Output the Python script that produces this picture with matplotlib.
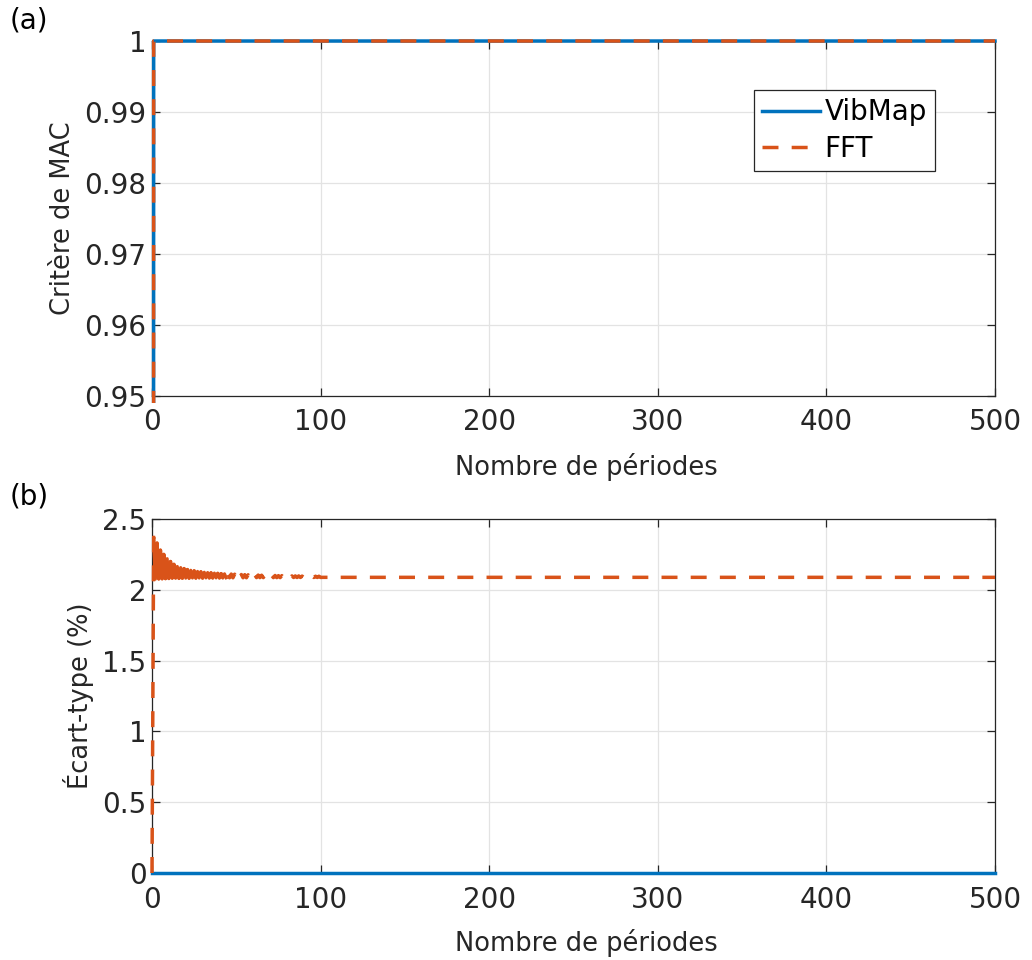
import numpy as np
import matplotlib
matplotlib.use("Agg")
import matplotlib.pyplot as plt
from matplotlib.patches import Rectangle

# ---------------- data ----------------
n_periods = 500
periods = list(range(0, n_periods + 1))

# (a) MAC criterion
mac_vibmap = [0.0] + [1.0] * n_periods
mac_fft = [0.0] + [1.0] * n_periods

# (b) standard deviation (%)
std_vibmap = [0.0] * (n_periods + 1)

# FFT: first value 0, then alternating peak / trough values for periods 1..100
fft_peaks = [2.37, 2.33, 2.28, 2.25, 2.22, 2.20, 2.18, 2.165, 2.157, 2.15,
             2.143, 2.138, 2.134, 2.13, 2.127, 2.124, 2.122, 2.12, 2.118, 2.116,
             2.114, 2.113, 2.112, 2.111, 2.11, 2.109, 2.108, 2.107, 2.106, 2.105,
             2.104, 2.104, 2.103, 2.102, 2.102, 2.101, 2.101, 2.1, 2.1, 2.099,
             2.099, 2.098, 2.098, 2.098, 2.097, 2.097, 2.097, 2.096, 2.096, 2.096]
fft_troughs = [2.075, 2.077, 2.078, 2.079, 2.08, 2.08, 2.081, 2.081, 2.082, 2.082,
               2.082, 2.083, 2.083, 2.083, 2.083, 2.084, 2.084, 2.084, 2.084, 2.084,
               2.085, 2.085, 2.085, 2.085, 2.085, 2.085, 2.085, 2.085, 2.085, 2.085,
               2.086, 2.086, 2.086, 2.086, 2.086, 2.086, 2.086, 2.086, 2.086, 2.086,
               2.087, 2.087, 2.087, 2.087, 2.087, 2.087, 2.087, 2.087, 2.087, 2.087]
fft_steady = 2.088
std_fft = [0.0]
for pk, tr in zip(fft_peaks, fft_troughs):
    std_fft += [pk, tr]
std_fft += [fft_steady] * (n_periods + 1 - len(std_fft))

# range of periods where the dense oscillation renders as a solid band
dense_start, dense_end = 1, 45

xticks = [0, 100, 200, 300, 400, 500]
yticks_a = [0.95, 0.96, 0.97, 0.98, 0.99, 1.0]
yticklabels_a = ["0.95", "0.96", "0.97", "0.98", "0.99", "1"]
yticks_b = [0, 0.5, 1, 1.5, 2, 2.5]
yticklabels_b = ["0", "0.5", "1", "1.5", "2", "2.5"]

# ---------------- style ----------------
C_BLUE = "#0072BD"
C_ORANGE = "#D95319"
C_TXT = "#262626"
plt.rcParams["font.family"] = ["DejaVu Sans"]

fig = plt.figure(figsize=(10.32, 9.6), dpi=100)
W, H = 1032, 960
ax_a = fig.add_axes([152 / W, 1 - 396 / H, 843 / W, 355 / H])
ax_b = fig.add_axes([152 / W, 1 - 873 / H, 843 / W, 354 / H])

LW = 2.5
DASH = (4.6, 3.8)


def style(ax, yticks, yticklabels, ylim, ylabel, xlab_y):
    ax.set_xlim(0, 500)
    ax.set_ylim(*ylim)
    ax.set_xticks(xticks)
    ax.set_xticklabels([str(v) for v in xticks])
    ax.set_yticks(yticks)
    ax.set_yticklabels(yticklabels)
    ax.grid(True, color="#e3e3e3", lw=0.9)
    ax.set_axisbelow(True)
    for s in ax.spines.values():
        s.set_color(C_TXT)
        s.set_linewidth(0.9)
    ax.tick_params(direction="in", length=6, width=0.9, color=C_TXT,
                   top=True, right=True, labelsize=20, labelcolor=C_TXT)
    ax.tick_params(axis="x", pad=9)
    ax.tick_params(axis="y", pad=4)
    ax.set_xlabel("Nombre de périodes", fontsize=18.5, color=C_TXT)
    ax.xaxis.set_label_coords(0.515, xlab_y)
    ax.set_ylabel(ylabel, fontsize=18.5, color=C_TXT, labelpad=6)


def clip_expand(ax, artist, pad=0.012):
    r = Rectangle((-pad, -pad * 1.6), 1 + 2 * pad, 1 + 3.2 * pad,
                  transform=ax.transAxes, facecolor="none", edgecolor="none")
    artist.set_clip_path(r)


# panel (a)
style(ax_a, yticks_a, yticklabels_a, (0.95, 1.0), "Critère de MAC", -0.16)
l1, = ax_a.plot(periods, mac_vibmap, color=C_BLUE, lw=LW, label="VibMap", zorder=3)
l2, = ax_a.plot(periods, mac_fft, color=C_ORANGE, lw=LW, ls="--", label="FFT", zorder=3.1)
l2.set_dashes(DASH)
for l in (l1, l2):
    clip_expand(ax_a, l)
leg = ax_a.legend(loc="upper right", bbox_to_anchor=(0.929, 0.862), fontsize=20,
                  frameon=True, fancybox=False, framealpha=1, edgecolor=C_TXT,
                  handlelength=2.1, handletextpad=0.15, borderpad=0.3,
                  labelspacing=0.3, borderaxespad=0)
leg.get_frame().set_linewidth(0.9)
leg.set_zorder(5)
for t in leg.get_texts():
    t.set_color("black")

# panel (b)
style(ax_b, yticks_b, yticklabels_b, (0, 2.5), "Écart-type (%)", -0.157)
m1, = ax_b.plot(periods, std_vibmap, color=C_BLUE, lw=LW, zorder=3)
m2, = ax_b.plot(periods, std_fft, color=C_ORANGE, lw=LW, ls="--", zorder=3.1)
m2.set_dashes(DASH)
m3, = ax_b.plot(periods[dense_start:dense_end], std_fft[dense_start:dense_end],
                color=C_ORANGE, lw=LW * 0.9, zorder=3.1)
for l in (m1, m2, m3):
    clip_expand(ax_b, l)

fig.text(10 / W, 1 - 20 / H, "(a)", fontsize=20, color="black", va="center", ha="left")
fig.text(10 / W, 1 - 496 / H, "(b)", fontsize=20, color="black", va="center", ha="left")

fig.savefig("out.png", dpi=100, facecolor="white")
